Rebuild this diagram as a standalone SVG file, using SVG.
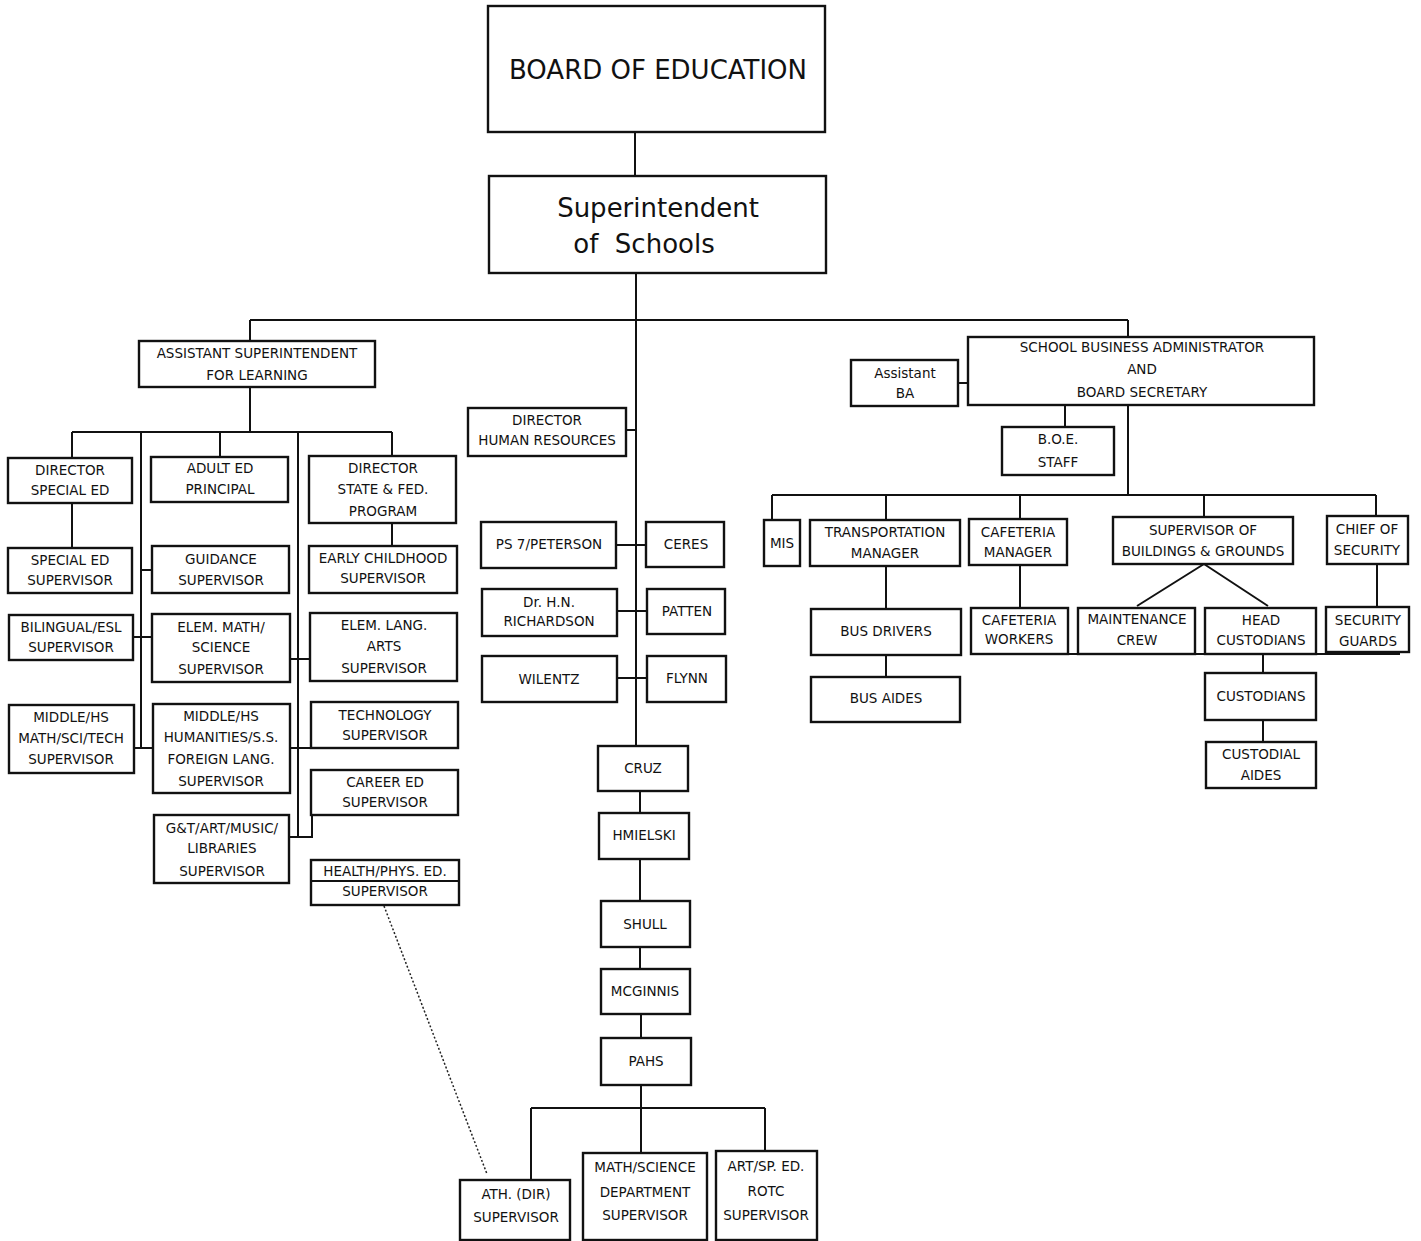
<svg xmlns="http://www.w3.org/2000/svg" width="1421" height="1241" viewBox="0 0 1421 1241">
<style>
.b{fill:#fff;stroke:#111;stroke-width:2.4}
.c{fill:none;stroke:#111;stroke-width:2}
.d{fill:none;stroke:#222;stroke-width:1.5;stroke-dasharray:2 2}
text{font-family:"DejaVu Sans","Liberation Sans",sans-serif;font-size:13.5px;text-anchor:middle;fill:#111}
.big{font-size:26px}
.sup{font-size:26px}
</style>
<rect width="1421" height="1241" fill="#fff"/>
<g id="connectors">
<path class="c" d="M635 132V176M636 273V746M250 320H1128M250 320V341M1128 320V337"/>
<path class="c" d="M250 387V432M72 432H392M72 432V458M141 432V748M220 432V457M298 432V837M392 432V456"/>
<path class="c" d="M72 503V548M392 523V546M141 570H152M133 637H152M134 748H153M290 659H310M290 748H311M289 837H312V815"/>
<path class="c" d="M626 430H636M617 545H646M617 611H647M617 678H647"/>
<path class="c" d="M640 791V813M640 859V901M640 947V969M641 1014V1038M641 1085V1153M531 1108H765M531 1108V1180M765 1108V1151"/>
<path class="d" d="M384 906L487 1174"/>
<path class="c" d="M958 383H968M1065 405V427M1128 405V495M772 495H1376M772 495V520M886 495V520M1020 495V519M1204 495V517M1376 495V516"/>
<path class="c" d="M886 566V609M886 655V677M1020 565V607M1204 564L1137 606M1204 564L1268 606M1377 564V607M971 654H1400M1263 654V673M1263 720V742"/>
</g>
<g id="board"><rect class="b" x="488" y="6" width="337" height="126"/><text class="big" x="658" y="79">BOARD OF EDUCATION</text></g>
<g id="superintendent"><rect class="b" x="489" y="176" width="337" height="97"/><text class="sup" x="658" y="217">Superintendent</text><text class="sup" x="644" y="253" xml:space="preserve">of  Schools</text></g>
<g id="asst-supt"><rect class="b" x="139" y="341" width="236" height="46"/><text x="257" y="358">ASSISTANT SUPERINTENDENT</text><text x="257" y="380">FOR LEARNING</text></g>
<g id="dir-special-ed"><rect class="b" x="8" y="458" width="124" height="45"/><text x="70" y="475">DIRECTOR</text><text x="70" y="495">SPECIAL ED</text></g>
<g id="adult-ed"><rect class="b" x="151" y="457" width="137" height="45"/><text x="220" y="473">ADULT ED</text><text x="220" y="494">PRINCIPAL</text></g>
<g id="dir-state-fed"><rect class="b" x="309" y="456" width="147" height="67"/><text x="383" y="473">DIRECTOR</text><text x="383" y="494">STATE &amp; FED.</text><text x="383" y="516">PROGRAM</text></g>
<g id="special-ed-sup"><rect class="b" x="8" y="548" width="124" height="45"/><text x="70" y="565">SPECIAL ED</text><text x="70" y="585">SUPERVISOR</text></g>
<g id="guidance"><rect class="b" x="152" y="546" width="137" height="47"/><text x="221" y="564">GUIDANCE</text><text x="221" y="585">SUPERVISOR</text></g>
<g id="early-childhood"><rect class="b" x="309" y="546" width="148" height="47"/><text x="383" y="563">EARLY CHILDHOOD</text><text x="383" y="583">SUPERVISOR</text></g>
<g id="bilingual"><rect class="b" x="9" y="615" width="124" height="45"/><text x="71" y="632">BILINGUAL/ESL</text><text x="71" y="652">SUPERVISOR</text></g>
<g id="elem-math"><rect class="b" x="152" y="614" width="138" height="68"/><text x="221" y="632">ELEM. MATH/</text><text x="221" y="652">SCIENCE</text><text x="221" y="674">SUPERVISOR</text></g>
<g id="elem-lang"><rect class="b" x="310" y="613" width="147" height="68"/><text x="384" y="630">ELEM. LANG.</text><text x="384" y="651">ARTS</text><text x="384" y="673">SUPERVISOR</text></g>
<g id="mhs-math"><rect class="b" x="9" y="705" width="125" height="68"/><text x="71" y="722">MIDDLE/HS</text><text x="71" y="743">MATH/SCI/TECH</text><text x="71" y="764">SUPERVISOR</text></g>
<g id="mhs-humanities"><rect class="b" x="153" y="704" width="137" height="89"/><text x="221" y="721">MIDDLE/HS</text><text x="221" y="742">HUMANITIES/S.S.</text><text x="221" y="764">FOREIGN LANG.</text><text x="221" y="786">SUPERVISOR</text></g>
<g id="technology"><rect class="b" x="311" y="702" width="147" height="46"/><text x="385" y="720">TECHNOLOGY</text><text x="385" y="740">SUPERVISOR</text></g>
<g id="career-ed"><rect class="b" x="311" y="770" width="147" height="45"/><text x="385" y="787">CAREER ED</text><text x="385" y="807">SUPERVISOR</text></g>
<g id="gt-art"><rect class="b" x="154" y="815" width="135" height="68"/><text x="222" y="833">G&amp;T/ART/MUSIC/</text><text x="222" y="853">LIBRARIES</text><text x="222" y="876">SUPERVISOR</text></g>
<g id="health"><rect class="b" x="311" y="860" width="148" height="45"/><path class="c" d="M311 881H459"/><text x="385" y="876">HEALTH/PHYS. ED.</text><text x="385" y="896">SUPERVISOR</text></g>
<g id="dir-hr"><rect class="b" x="468" y="408" width="158" height="48"/><text x="547" y="425">DIRECTOR</text><text x="547" y="445">HUMAN RESOURCES</text></g>
<g id="ps7"><rect class="b" x="481" y="522" width="135" height="46"/><text x="549" y="549">PS 7/PETERSON</text></g>
<g id="ceres"><rect class="b" x="646" y="522" width="78" height="45"/><text x="686" y="549">CERES</text></g>
<g id="richardson"><rect class="b" x="482" y="589" width="135" height="47"/><text x="549" y="607">Dr. H.N.</text><text x="549" y="626">RICHARDSON</text></g>
<g id="patten"><rect class="b" x="647" y="589" width="78" height="45"/><text x="687" y="616">PATTEN</text></g>
<g id="wilentz"><rect class="b" x="482" y="656" width="135" height="46"/><text x="549" y="684">WILENTZ</text></g>
<g id="flynn"><rect class="b" x="647" y="656" width="79" height="46"/><text x="687" y="683">FLYNN</text></g>
<g id="cruz"><rect class="b" x="598" y="746" width="90" height="45"/><text x="643" y="773">CRUZ</text></g>
<g id="hmielski"><rect class="b" x="599" y="813" width="90" height="46"/><text x="644" y="840">HMIELSKI</text></g>
<g id="shull"><rect class="b" x="601" y="901" width="89" height="46"/><text x="645" y="929">SHULL</text></g>
<g id="mcginnis"><rect class="b" x="601" y="969" width="89" height="45"/><text x="645" y="996">MCGINNIS</text></g>
<g id="pahs"><rect class="b" x="601" y="1038" width="90" height="47"/><text x="646" y="1066">PAHS</text></g>
<g id="ath"><rect class="b" x="460" y="1180" width="110" height="60"/><text x="516" y="1199">ATH. (DIR)</text><text x="516" y="1222">SUPERVISOR</text></g>
<g id="math-science-dept"><rect class="b" x="583" y="1153" width="124" height="87"/><text x="645" y="1172">MATH/SCIENCE</text><text x="645" y="1197">DEPARTMENT</text><text x="645" y="1220">SUPERVISOR</text></g>
<g id="art-sp-ed"><rect class="b" x="716" y="1151" width="101" height="89"/><text x="766" y="1171">ART/SP. ED.</text><text x="766" y="1196">ROTC</text><text x="766" y="1220">SUPERVISOR</text></g>
<g id="assistant-ba"><rect class="b" x="851" y="360" width="107" height="46"/><text x="905" y="378">Assistant</text><text x="905" y="398">BA</text></g>
<g id="sba"><rect class="b" x="968" y="337" width="346" height="68"/><text x="1142" y="352">SCHOOL BUSINESS ADMINISTRATOR</text><text x="1142" y="374">AND</text><text x="1142" y="397">BOARD SECRETARY</text></g>
<g id="boe-staff"><rect class="b" x="1002" y="427" width="112" height="48"/><text x="1058" y="444">B.O.E.</text><text x="1058" y="467">STAFF</text></g>
<g id="mis"><rect class="b" x="764" y="520" width="36" height="46"/><text x="782" y="548">MIS</text></g>
<g id="transportation"><rect class="b" x="810" y="520" width="150" height="46"/><text x="885" y="537">TRANSPORTATION</text><text x="885" y="558">MANAGER</text></g>
<g id="cafeteria-mgr"><rect class="b" x="969" y="519" width="98" height="46"/><text x="1018" y="537">CAFETERIA</text><text x="1018" y="557">MANAGER</text></g>
<g id="bldg-grounds"><rect class="b" x="1113" y="517" width="180" height="47"/><text x="1203" y="535">SUPERVISOR OF</text><text x="1203" y="556">BUILDINGS &amp; GROUNDS</text></g>
<g id="chief-security"><rect class="b" x="1327" y="516" width="81" height="48"/><text x="1367" y="534">CHIEF OF</text><text x="1367" y="555">SECURITY</text></g>
<g id="bus-drivers"><rect class="b" x="811" y="609" width="150" height="46"/><text x="886" y="636">BUS DRIVERS</text></g>
<g id="bus-aides"><rect class="b" x="811" y="677" width="149" height="45"/><text x="886" y="703">BUS AIDES</text></g>
<g id="cafeteria-workers"><rect class="b" x="971" y="608" width="97" height="46"/><text x="1019" y="625">CAFETERIA</text><text x="1019" y="644">WORKERS</text></g>
<g id="maintenance"><rect class="b" x="1078" y="608" width="117" height="46"/><text x="1137" y="624">MAINTENANCE</text><text x="1137" y="645">CREW</text></g>
<g id="head-custodians"><rect class="b" x="1205" y="608" width="111" height="46"/><text x="1261" y="625">HEAD</text><text x="1261" y="645">CUSTODIANS</text></g>
<g id="security-guards"><rect class="b" x="1326" y="607" width="83" height="45"/><text x="1368" y="625">SECURITY</text><text x="1368" y="646">GUARDS</text></g>
<g id="custodians"><rect class="b" x="1205" y="673" width="111" height="47"/><text x="1261" y="701">CUSTODIANS</text></g>
<g id="custodial-aides"><rect class="b" x="1206" y="742" width="110" height="46"/><text x="1261" y="759">CUSTODIAL</text><text x="1261" y="780">AIDES</text></g>
</svg>
